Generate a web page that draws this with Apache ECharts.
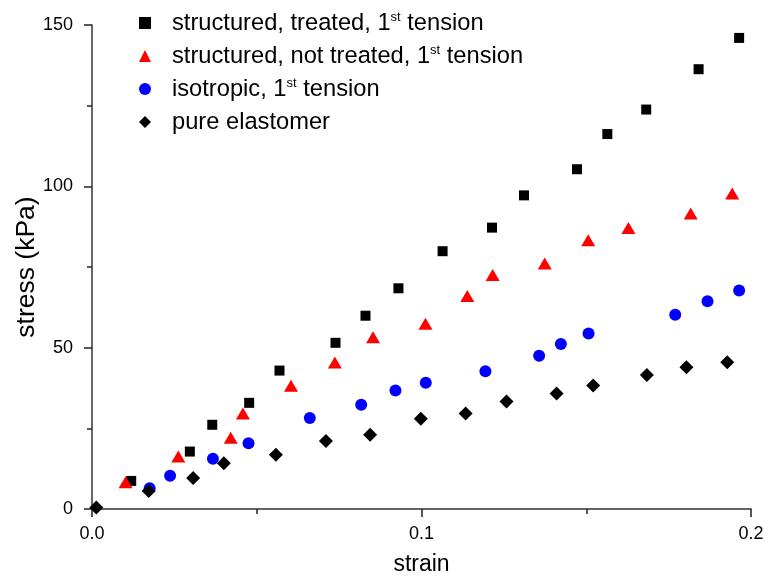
<!DOCTYPE html>
<html>
<head>
<meta charset="utf-8">
<script src="https://cdn.jsdelivr.net/npm/echarts@6/dist/echarts.min.js"></script>
<style>
  html, body { margin: 0; padding: 0; background: #fff; }
  #chart { width: 768px; height: 578px; }
</style>
</head>
<body>
<div id="chart"></div>
<script>
// strain / stress pairs
const treated = [
  [0.0119, 8.7], [0.0297, 17.8], [0.0365, 26.1], [0.0477, 32.9], [0.0569, 42.9],
  [0.0739, 51.5], [0.0830, 59.9], [0.0930, 68.4], [0.1064, 79.9], [0.1214, 87.2],
  [0.1311, 97.2], [0.1472, 105.3], [0.1564, 116.2], [0.1682, 123.8], [0.1841, 136.3],
  [0.1964, 146.0]
];
const notTreated = [
  [0.0102, 8.3], [0.0262, 16.3], [0.0421, 22.1], [0.0458, 29.6], [0.0604, 38.2],
  [0.0737, 45.4], [0.0853, 53.2], [0.1012, 57.4], [0.1139, 66.0], [0.1216, 72.5],
  [0.1374, 76.1], [0.1506, 83.3], [0.1628, 87.1], [0.1817, 91.6], [0.1943, 97.8]
];
const isotropic = [
  [0.0175, 6.4], [0.0237, 10.3], [0.0367, 15.6], [0.0475, 20.4], [0.0661, 28.2],
  [0.0817, 32.3], [0.0921, 36.7], [0.1013, 39.1], [0.1194, 42.7], [0.1357, 47.5],
  [0.1423, 51.1], [0.1507, 54.4], [0.1770, 60.2], [0.1868, 64.4], [0.1964, 67.7]
];
const elastomer = [
  [0.0013, 0.5], [0.0172, 5.6], [0.0307, 9.6], [0.0400, 14.2], [0.0558, 16.8],
  [0.0710, 21.1], [0.0844, 23.0], [0.0998, 28.0], [0.1134, 29.6], [0.1258, 33.3],
  [0.1410, 35.8], [0.1521, 38.3], [0.1684, 41.5], [0.1804, 43.9], [0.1928, 45.5]
];
const seriesNames = [
  "structured, treated, 1st tension",
  "structured, not treated, 1st tension",
  "isotropic, 1st tension",
  "pure elastomer"
];

const FONT = "'Liberation Sans', Arial, sans-serif";
const chart = echarts.init(document.getElementById("chart"));

const axisLine = { lineStyle: { color: "#333", width: 1.5 } };
const tickStyle = { color: "#222", width: 1.5 };

chart.setOption({
  backgroundColor: "#fff",
  animation: false,
  textStyle: { fontFamily: FONT },
  grid: { left: 92, right: 17, top: 25, bottom: 69, outerBoundsMode: "none", containLabel: false },
  legend: {
    orient: "vertical",
    left: 134,
    top: 6,
    itemGap: 9,
    itemWidth: 12,
    itemHeight: 12,
    data: seriesNames,
    formatter: (name) => name.replace("1st", "1{sup|st}"),
    textStyle: {
      fontFamily: FONT, fontSize: 23.7, color: "#000", lineHeight: 24, padding: [0, 0, 0, 16],
      rich: { sup: { fontFamily: FONT, fontSize: 13, color: "#000", verticalAlign: "top", lineHeight: 10 } }
    }
  },
  xAxis: {
    type: "value",
    min: 0, max: 0.2, interval: 0.1,
    name: "strain",
    nameLocation: "middle",
    nameGap: 44,
    nameMoveOverlap: false,
    nameTextStyle: { fontFamily: FONT, fontSize: 23, color: "#000" },
    axisLine: axisLine,
    axisTick: { show: true, inside: false, length: 8, lineStyle: tickStyle },
    minorTick: { show: true, splitNumber: 2, length: 5, lineStyle: tickStyle },
    splitLine: { show: false },
    axisLabel: { fontFamily: FONT, fontSize: 18, color: "#000", margin: 16, formatter: (v) => v.toFixed(1) }
  },
  yAxis: {
    type: "value",
    min: 0, max: 150, interval: 50,
    name: "stress (kPa)",
    nameLocation: "middle",
    nameGap: 52,
    nameMoveOverlap: false,
    nameTextStyle: { fontFamily: FONT, fontSize: 26.5, color: "#000" },
    axisLine: axisLine,
    axisTick: { show: true, inside: false, length: 8, lineStyle: tickStyle },
    minorTick: { show: true, splitNumber: 2, length: 5, lineStyle: tickStyle },
    splitLine: { show: false },
    axisLabel: { fontFamily: FONT, fontSize: 18, color: "#000", margin: 19 }
  },
  series: [
    { name: seriesNames[0], type: "scatter", symbol: "rect", symbolSize: 10, itemStyle: { color: "#000", opacity: 1 }, data: treated },
    { name: seriesNames[1], type: "scatter", symbol: "triangle", symbolSize: [14, 12], itemStyle: { color: "#ff0000", opacity: 1 }, data: notTreated },
    { name: seriesNames[2], type: "scatter", symbol: "circle", symbolSize: 12, itemStyle: { color: "#0000ff", opacity: 1 }, data: isotropic },
    { name: seriesNames[3], type: "scatter", symbol: "diamond", symbolSize: 14, itemStyle: { color: "#000", opacity: 1 }, data: elastomer }
  ]
});
</script>
</body>
</html>
